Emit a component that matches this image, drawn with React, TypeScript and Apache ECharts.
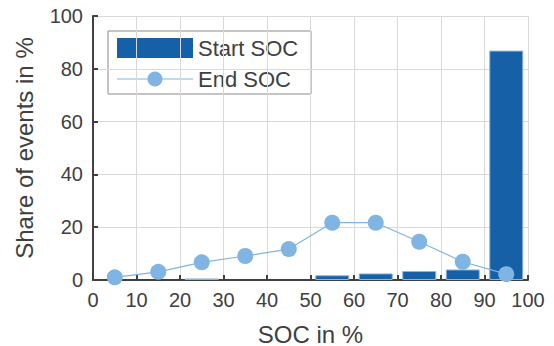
import React, { useEffect, useRef } from "react";
import * as echarts from "echarts";

// SOC bins (centres of 10 % wide bins)
const binCenters = [5, 15, 25, 35, 45, 55, 65, 75, 85, 95];
// Share of charging events by starting SOC, in %
const startSoc = [0, 0, 0.6, 0, 0, 1.8, 2.5, 3.4, 4.0, 86.9];
// Share of charging events by ending SOC, in %
const endSoc = [1.0, 3.1, 6.7, 9.1, 11.7, 21.7, 21.7, 14.5, 6.9, 2.2];

const xTicks = [0, 10, 20, 30, 40, 50, 60, 70, 80, 90, 100];
const yTicks = [0, 20, 40, 60, 80, 100];

const BAR = "#1660a8";
const DOT = "#80b4e2";
const INK = "#404040";
const FONT = "'Liberation Sans', Arial, sans-serif";

export default function App() {
  const ref = useRef<HTMLDivElement>(null);

  useEffect(() => {
    if (!ref.current) return;
    const chart = echarts.init(ref.current, undefined, { renderer: "svg" });
    chart.setOption({
      animation: false,
      backgroundColor: "#ffffff",
      textStyle: { fontFamily: FONT },
      grid: {
        left: 93,
        right: 26,
        top: 16,
        bottom: 66,
        outerBoundsMode: "none",
        containLabel: false,
      },
      xAxis: {
        type: "value",
        min: xTicks[0],
        max: xTicks[xTicks.length - 1],
        interval: 10,
        name: "SOC in %",
        nameLocation: "middle",
        nameGap: 42,
        nameTextStyle: { color: INK, fontSize: 24, fontFamily: FONT },
        axisLine: { lineStyle: { color: INK, width: 2 } },
        axisTick: { inside: true, length: 5, lineStyle: { color: INK, width: 2 } },
        axisLabel: { color: INK, fontSize: 20, margin: 10, fontFamily: FONT },
        splitLine: { show: true, lineStyle: { color: "#d9d9d9", width: 1 } },
      },
      yAxis: {
        type: "value",
        min: yTicks[0],
        max: yTicks[yTicks.length - 1],
        interval: 20,
        name: "Share of events in %",
        nameLocation: "middle",
        nameGap: 57,
        nameTextStyle: { color: INK, fontSize: 24, fontFamily: FONT },
        axisLine: { show: true, lineStyle: { color: INK, width: 2 } },
        axisTick: { show: true, inside: true, length: 5, lineStyle: { color: INK, width: 2 } },
        axisLabel: { color: INK, fontSize: 20, margin: 10, fontFamily: FONT },
        splitLine: { show: true, lineStyle: { color: "#d9d9d9", width: 1 } },
      },
      series: [
        {
          name: "Start SOC",
          type: "bar",
          barWidth: 34,
          data: binCenters
            .map((x, i) => [x, startSoc[i]])
            .filter((d) => d[1] > 0),
          itemStyle: { color: BAR, borderColor: "#8fb3dc", borderWidth: 1 },
          z: 2,
        },
        {
          name: "End SOC",
          type: "line",
          data: binCenters.map((x, i) => [x, endSoc[i]]),
          symbol: "circle",
          symbolSize: 16,
          lineStyle: { color: DOT, width: 1.2 },
          itemStyle: { color: DOT },
          z: 3,
        },
      ],
      graphic: [
        {
          type: "group",
          z: 100,
          children: [
            {
              type: "rect",
              shape: { x: 108, y: 31, width: 203, height: 63 },
              style: { fill: "#ffffff", stroke: "#8a8a8a", lineWidth: 1 },
            },
            {
              type: "rect",
              shape: { x: 117, y: 38, width: 76, height: 20 },
              style: { fill: BAR },
            },
            {
              type: "text",
              x: 198,
              y: 48,
              style: {
                text: "Start SOC",
                fill: INK,
                fontSize: 22,
                fontFamily: FONT,
                verticalAlign: "middle",
              },
            },
            {
              type: "line",
              shape: { x1: 117, y1: 79, x2: 193, y2: 79 },
              style: { stroke: DOT, lineWidth: 1.2 },
            },
            {
              type: "circle",
              shape: { cx: 155, cy: 79, r: 7.5 },
              style: { fill: DOT },
            },
            {
              type: "text",
              x: 198,
              y: 79,
              style: {
                text: "End SOC",
                fill: INK,
                fontSize: 22,
                fontFamily: FONT,
                verticalAlign: "middle",
              },
            },
          ],
        },
      ],
    });
    return () => chart.dispose();
  }, []);

  return (
    <div
      ref={ref}
      style={{ position: "fixed", left: 0, top: 0, width: 554, height: 346 }}
    />
  );
}
